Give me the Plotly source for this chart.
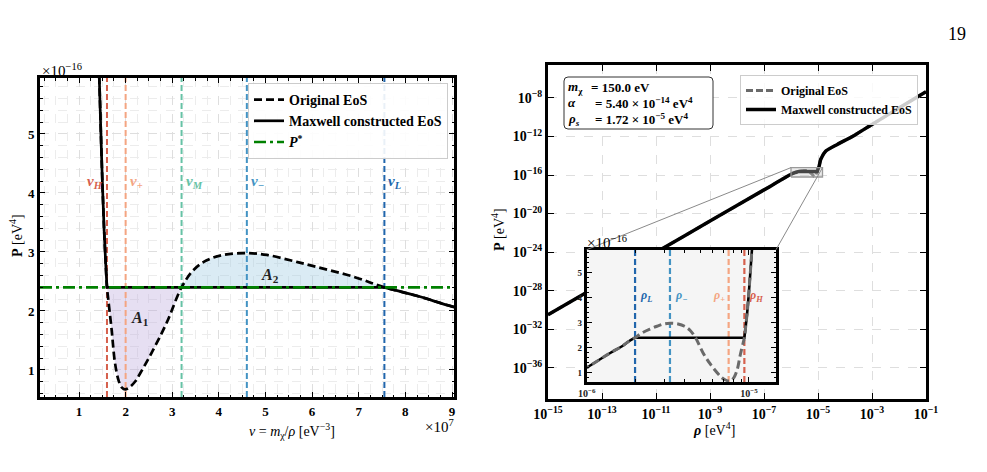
import numpy as np
import plotly.graph_objects as go

W, H = 987, 472
FONT = "Liberation Serif"

# ---------------- data ----------------
m_chi = 150.0            # eV
P_star = 2.40            # in units of 1e-16 eV^4

# Original EoS (v in 1e7 eV^-3, P in 1e-16 eV^4)
v_orig = [1.38, 1.436, 1.47, 1.505, 1.54, 1.57, 1.60, 1.63, 1.70, 1.77, 1.85, 1.92, 1.99,
          2.09, 2.20, 2.31, 2.59, 2.88, 3.20, 3.45, 3.74, 4.10, 4.60, 5.03, 5.53, 6.03,
          6.89, 7.55, 8.32, 9.03, 10.8, 15.0]
P_orig = [7.2, 5.93, 5.0, 4.1, 3.35, 2.85, 2.40, 2.18, 1.68, 1.13, 0.82, 0.70, 0.67,
          0.71, 0.80, 0.94, 1.34, 1.80, 2.40, 2.69, 2.86, 2.95, 2.98, 2.95, 2.86, 2.76,
          2.58, 2.40, 2.24, 2.07, 1.78, 1.20]

# characteristic volumes (1e7 eV^-3)
v_marks = [1.60, 2.00, 3.20, 4.60, 7.55]
v_subs = ["H", "+", "M", "−", "L"]
mark_colors = ["#d6604d", "#f4a582", "#66c2a5", "#4393c3", "#2166ac"]
v_H, v_plus, v_M, v_minus, v_L = v_marks
rho_subs = ["H", "+", None, "−", "L"]   # inset shows no rho_M line

# right panel, outside the zoomed region (rho in eV^4, P in eV^4)
rho_low = [1e-15, 1e-13, 1e-11, 1e-9, 1e-7]
P_low = [3.2e-31, 5.5e-28, 9.5e-25, 1.66e-21, 2.9e-18]
rho_high = [1.26e-5, 1.95e-5, 5.2e-5, 2.2e-4, 1e-3, 1e-2, 1e-1]
P_high = [4.3e-15, 3.1e-14, 1.5e-13, 1.3e-12, 1.8e-11, 8.9e-10, 4.5e-8]

x_ticks_left = [1, 2, 3, 4, 5, 6, 7, 8, 9]
y_ticks_left = [1, 2, 3, 4, 5]
x_exp_right = [-15, -13, -11, -9, -7, -5, -3, -1]
y_exp_right = [-8, -12, -16, -20, -24, -28, -32, -36]

param_syms = ["<i>m</i><sub>χ</sub>", "<i>α</i>", "<i>ρ<sub>s</sub></i>"]
param_vals = ["= 150.0 eV", "= 5.40 × 10<sup>−14</sup> eV<sup>4</sup>",
              "= 1.72 × 10<sup>−5</sup> eV<sup>4</sup>"]

# ---------------- layout geometry ----------------
dom1x = [40 / W, 454 / W]; dom1y = [1 - 397 / H, 1 - 78 / H]
dom2x = [548 / W, 926 / W]; dom2y = [1 - 399 / H, 1 - 65 / H]
dom3x = [586.7 / W, 776 / W]; dom3y = [1 - 382 / H, 1 - 249.7 / H]
r1x = [0.1635, 9.043]; r1y = [0.542, 5.949]
r2x = [-15, -1]; r2y = [-39.24, -4.58]
r3x = [-6, -4.833]; r3y = [0.63, 5.92]

def px(x):
    return x / W

def py(y):
    return 1 - y / H

v_o = np.array(v_orig); P_o = np.array(P_orig)

# Maxwell constructed EoS
mask_hi = v_o <= v_H
mask_lo = v_o >= v_L
v_max = np.concatenate([v_o[mask_hi], [v_H, v_L], v_o[mask_lo]])
P_max = np.concatenate([P_o[mask_hi], [P_star, P_star], P_o[mask_lo]])

fig = go.Figure()

# ---- left panel fills ----
m1 = (v_o > v_H) & (v_o < v_M)
fig.add_trace(go.Scatter(x=np.concatenate([[v_H], v_o[m1], [v_M]]),
                         y=np.concatenate([[P_star], P_o[m1], [P_star]]),
                         fill="toself", fillcolor="rgba(188,170,220,0.38)", mode="lines",
                         line=dict(width=0, shape="spline"), showlegend=False,
                         xaxis="x", yaxis="y", hoverinfo="skip"))
m2 = (v_o > v_M) & (v_o < v_L)
fig.add_trace(go.Scatter(x=np.concatenate([[v_M], v_o[m2], [v_L]]),
                         y=np.concatenate([[P_star], P_o[m2], [P_star]]),
                         fill="toself", fillcolor="rgba(158,202,225,0.38)", mode="lines",
                         line=dict(width=0, shape="spline"), showlegend=False,
                         xaxis="x", yaxis="y", hoverinfo="skip"))

# vertical lines left
for v, c in zip(v_marks, mark_colors):
    fig.add_trace(go.Scatter(x=[v, v], y=r1y, mode="lines",
                             line=dict(color=c, width=2, dash="6px,3px"),
                             showlegend=False, xaxis="x", yaxis="y", hoverinfo="skip"))

fig.add_trace(go.Scatter(x=v_o, y=P_o, mode="lines", name="<b>Original EoS</b>",
                         line=dict(color="black", width=2.7, dash="8px,4px", shape="spline"),
                         xaxis="x", yaxis="y", legend="legend"))
fig.add_trace(go.Scatter(x=v_max, y=P_max, mode="lines", name="<b>Maxwell constructed EoS</b>",
                         line=dict(color="black", width=2.7, shape="spline"),
                         xaxis="x", yaxis="y", legend="legend"))
fig.add_trace(go.Scatter(x=r1x, y=[P_star, P_star], mode="lines", name="<b><i>P</i><sup>*</sup></b>",
                         line=dict(color="#008000", width=2.7, dash="12px,4px,3px,4px"),
                         xaxis="x", yaxis="y", legend="legend"))

# ---- right main panel ----
rho_mid = m_chi / (v_o[::-1] * 1e7)
P_mid = P_o[::-1] * 1e-16
rho_all = np.concatenate([rho_low, rho_mid, rho_high])
P_all = np.concatenate([P_low, P_mid, P_high])
rho_mx = np.concatenate([rho_low, m_chi / (v_max[::-1] * 1e7), rho_high])
P_mx = np.concatenate([P_low, P_max[::-1] * 1e-16, P_high])

fig.add_trace(go.Scatter(x=rho_all, y=P_all, mode="lines", name="<b>Original EoS</b>",
                         line=dict(color="#6a6a6a", width=3, dash="7px,3px", shape="spline",
                                   smoothing=0.6),
                         xaxis="x2", yaxis="y2", legend="legend2"))
fig.add_trace(go.Scatter(x=rho_mx, y=P_mx, mode="lines", name="<b>Maxwell constructed EoS</b>",
                         line=dict(color="black", width=3.5, shape="spline", smoothing=0.6),
                         xaxis="x2", yaxis="y2", legend="legend2"))

# zoom rectangle on main panel
zx = [10 ** r3x[0], 10 ** r3x[1]]
zy = [r3y[0] * 1e-16, r3y[1] * 1e-16]
fig.add_trace(go.Scatter(x=[zx[0], zx[1], zx[1], zx[0], zx[0]],
                         y=[zy[0], zy[0], zy[1], zy[1], zy[0]],
                         mode="lines", fill="toself", fillcolor="rgba(200,200,200,0.35)",
                         line=dict(color="#9a9a9a", width=1.3), showlegend=False,
                         xaxis="x2", yaxis="y2", hoverinfo="skip"))

# ---- inset ----
fig.add_trace(go.Scatter(x=[zx[0], zx[1], zx[1], zx[0], zx[0]],
                         y=[r3y[0], r3y[0], r3y[1], r3y[1], r3y[0]],
                         mode="lines", fill="toself", fillcolor="#f5f5f5",
                         line=dict(width=0), showlegend=False,
                         xaxis="x3", yaxis="y3", hoverinfo="skip"))
for v, s, c in zip(v_marks, rho_subs, mark_colors):
    if s is None:
        continue
    r = m_chi / (v * 1e7)
    fig.add_trace(go.Scatter(x=[r, r], y=r3y, mode="lines",
                             line=dict(color=c, width=2.2, dash="6px,3px"),
                             showlegend=False, xaxis="x3", yaxis="y3", hoverinfo="skip"))
fig.add_trace(go.Scatter(x=m_chi / (v_max * 1e7), y=P_max, mode="lines", showlegend=False,
                         line=dict(color="black", width=2.6, shape="spline"),
                         xaxis="x3", yaxis="y3"))
fig.add_trace(go.Scatter(x=m_chi / (v_o * 1e7), y=P_o, mode="lines", showlegend=False,
                         line=dict(color="#6a6a6a", width=3, dash="8px,4px", shape="spline"),
                         xaxis="x3", yaxis="y3"))

# ---------------- axes ----------------
tf = dict(family=FONT, size=13, color="black", weight="bold")
grid_major = dict(showgrid=True, gridcolor="#dedede", griddash="dash", gridwidth=1)
common = dict(showline=True, linewidth=3, linecolor="black", mirror="allticks",
              ticks="inside", tickwidth=1.4, ticklen=5, tickcolor="black", zeroline=False,
              automargin=False)

fig.update_layout(
    xaxis=dict(domain=dom1x, range=r1x, anchor="y", tickvals=x_ticks_left, tickfont=tf,
               minor=dict(dtick=0.25, tick0=0, ticks="inside", ticklen=2.5, tickwidth=1,
                          tickcolor="black", showgrid=True, gridcolor="#ececec", griddash="dash"),
               **grid_major, **common),
    yaxis=dict(domain=dom1y, range=r1y, anchor="x", tickvals=y_ticks_left, tickfont=tf,
               minor=dict(dtick=0.2, tick0=0, ticks="inside", ticklen=2.5, tickwidth=1,
                          tickcolor="black", showgrid=True, gridcolor="#ececec", griddash="dash"),
               **grid_major, **common),
    xaxis2=dict(domain=dom2x, range=r2x, type="log", anchor="y2",
                tickvals=[10.0 ** e for e in x_exp_right],
                ticktext=["10<sup>−%d</sup>" % (-e) for e in x_exp_right],
                tickfont=dict(family=FONT, size=14, color="black", weight="bold"),
                **grid_major, **dict(common, ticklen=6)),
    yaxis2=dict(domain=dom2y, range=r2y, type="log", anchor="x2",
                tickvals=[10.0 ** e for e in y_exp_right],
                ticktext=["10<sup>−%d</sup>" % (-e) for e in y_exp_right],
                tickfont=dict(family=FONT, size=14, color="black", weight="bold"),
                **grid_major, **dict(common, ticklen=6)),
    xaxis3=dict(domain=dom3x, range=r3x, type="log", anchor="y3",
                tickvals=[1e-6, 1e-5], ticktext=["10<sup>−6</sup>", "10<sup>−5</sup>"],
                tickfont=dict(family=FONT, size=10, color="#222", weight="bold"),
                showgrid=False,
                minor=dict(tickvals=[2e-6, 3e-6, 4e-6, 5e-6, 6e-6, 7e-6, 8e-6, 9e-6],
                           ticks="inside", ticklen=3, tickwidth=1, tickcolor="black"),
                **dict(common, ticklen=5, linewidth=3)),
    yaxis3=dict(domain=dom3y, range=r3y, anchor="x3", tickvals=[1, 2, 3, 4, 5],
                tickfont=dict(family=FONT, size=9, color="#222", weight="bold"),
                showgrid=False,
                minor=dict(dtick=0.2, tick0=0, ticks="inside", ticklen=2.5, tickwidth=1,
                           tickcolor="black"),
                **dict(common, ticklen=5, linewidth=3)),
)

fig.update_layout(
    width=W, height=H, margin=dict(l=0, r=0, t=0, b=0, autoexpand=False),
    paper_bgcolor="white", plot_bgcolor="white",
    font=dict(family=FONT, color="black"),
    legend=dict(x=px(448), y=py(83), xanchor="right", yanchor="top",
                bgcolor="rgba(255,255,255,0.9)", bordercolor="#cccccc", borderwidth=1,
                font=dict(family=FONT, size=14, color="black"), itemwidth=30,
                tracegroupgap=0),
    legend2=dict(x=px(918), y=py(75), xanchor="right", yanchor="top",
                 bgcolor="rgba(255,255,255,0.8)", bordercolor="#cccccc", borderwidth=1,
                 font=dict(family=FONT, size=12, color="black"), itemwidth=30,
                 tracegroupgap=0),
)

# ---------------- annotations ----------------
ann = []
label_P = 4.19
for v, s, c in zip(v_marks, v_subs, mark_colors):
    left = (s == "H")
    ann.append(dict(x=v, y=label_P, xref="x", yref="y",
                    text="<i>v<sub>%s</sub></i>" % s, showarrow=False,
                    xanchor="right" if left else "left", xshift=-2 if left else 2,
                    font=dict(family=FONT, size=15, color=c, weight="bold")))
ann.append(dict(x=2.31, y=1.88, xref="x", yref="y", text="<i>A</i><sub>1</sub>",
                showarrow=False, font=dict(family=FONT, size=16, color="#222", weight="bold")))
ann.append(dict(x=5.1, y=2.6, xref="x", yref="y", text="<i>A</i><sub>2</sub>",
                showarrow=False, font=dict(family=FONT, size=16, color="#222", weight="bold")))

for v, s, c in zip(v_marks, rho_subs, mark_colors):
    if s is None:
        continue
    r = m_chi / (v * 1e7)
    left = (s == "+")
    ann.append(dict(x=np.log10(r), y=4.07, xref="x3", yref="y3",
                    text="<i>ρ<sub>%s</sub></i>" % s, showarrow=False,
                    xanchor="right" if left else "left", xshift=-2 if left else 3,
                    font=dict(family=FONT, size=12, color=c, weight="bold")))

ann += [
    dict(x=px(40), y=py(70), xref="paper", yref="paper", text="×10<sup>−16</sup>",
         showarrow=False, xanchor="left", yanchor="middle", font=dict(family=FONT, size=15)),
    dict(x=px(456), y=py(426), xref="paper", yref="paper", text="×10<sup>7</sup>",
         showarrow=False, xanchor="right", yanchor="middle", font=dict(family=FONT, size=15)),
    dict(x=px(585), y=py(242), xref="paper", yref="paper", text="×10<sup>−16</sup>",
         showarrow=False, xanchor="left", yanchor="middle", font=dict(family=FONT, size=15)),
    dict(x=px(247), y=py(419), xref="paper", yref="paper", yanchor="top",
         text="<i>v</i> = <i>m</i><sub>χ</sub>/<i>ρ</i> [eV<sup>−3</sup>]",
         showarrow=False, font=dict(family=FONT, size=14)),
    dict(x=px(5), y=py(236), xref="paper", yref="paper", text="<b>P</b> [eV<sup>4</sup>]",
         showarrow=False, textangle=-90, xanchor="left", font=dict(family=FONT, size=14)),
    dict(x=px(737), y=py(418), xref="paper", yref="paper", yanchor="top",
         text="<b><i>ρ</i></b> [eV<sup>4</sup>]",
         showarrow=False, font=dict(family=FONT, size=14)),
    dict(x=px(498), y=py(230), xref="paper", yref="paper", text="<b>P</b> [eV<sup>4</sup>]",
         showarrow=False, textangle=-90, font=dict(family=FONT, size=14)),
    dict(x=px(968), y=py(22), xref="paper", yref="paper", text="19",
         showarrow=False, font=dict(family=FONT, size=18)),
]
# parameter box lines
row_y = [87, 103, 119]
for i, (sym, val, yy) in enumerate(zip(param_syms, param_vals, row_y)):
    ann.append(dict(x=px(567), y=py(yy), xref="paper", yref="paper", xanchor="left",
                    yanchor="middle", text=sym, showarrow=False, borderpad=0,
                    font=dict(family=FONT, size=13, weight="bold")))
    ann.append(dict(x=px(590 if i == 0 else 594), y=py(yy), xref="paper", yref="paper",
                    xanchor="left", yanchor="middle", text=val, showarrow=False, borderpad=0,
                    font=dict(family=FONT, size=13, weight="bold")))
fig.update_layout(annotations=ann)

# connector lines from zoom rectangle to inset
def to_paper_x(val):
    return dom2x[0] + (np.log10(val) - r2x[0]) / (r2x[1] - r2x[0]) * (dom2x[1] - dom2x[0])

def to_paper_y(val):
    return dom2y[0] + (np.log10(val) - r2y[0]) / (r2y[1] - r2y[0]) * (dom2y[1] - dom2y[0])

# rounded parameter box
bx0, bx1, by0, by1, rr = 564, 713, 77, 129, 4
path = ("M {a},{b} L {c},{b} Q {d},{b} {d},{e} L {d},{f} Q {d},{g} {c},{g} "
        "L {a},{g} Q {h},{g} {h},{f} L {h},{e} Q {h},{b} {a},{b} Z").format(
    a=px(bx0 + rr), b=py(by0), c=px(bx1 - rr), d=px(bx1), e=py(by0 + rr),
    f=py(by1 - rr), g=py(by1), h=px(bx0))

shapes = [
    dict(type="line", xref="paper", yref="paper", x0=to_paper_x(zx[0]), y0=to_paper_y(zy[1]),
         x1=dom3x[0], y1=dom3y[1], line=dict(color="#8a8a8a", width=1)),
    dict(type="line", xref="paper", yref="paper", x0=to_paper_x(zx[1]), y0=to_paper_y(zy[1]),
         x1=dom3x[1], y1=dom3y[1], line=dict(color="#8a8a8a", width=1)),
    dict(type="path", xref="paper", yref="paper", path=path, fillcolor="white",
         line=dict(color="#333333", width=1), layer="above"),
]
fig.update_layout(shapes=shapes)

fig.write_html("out.html")
